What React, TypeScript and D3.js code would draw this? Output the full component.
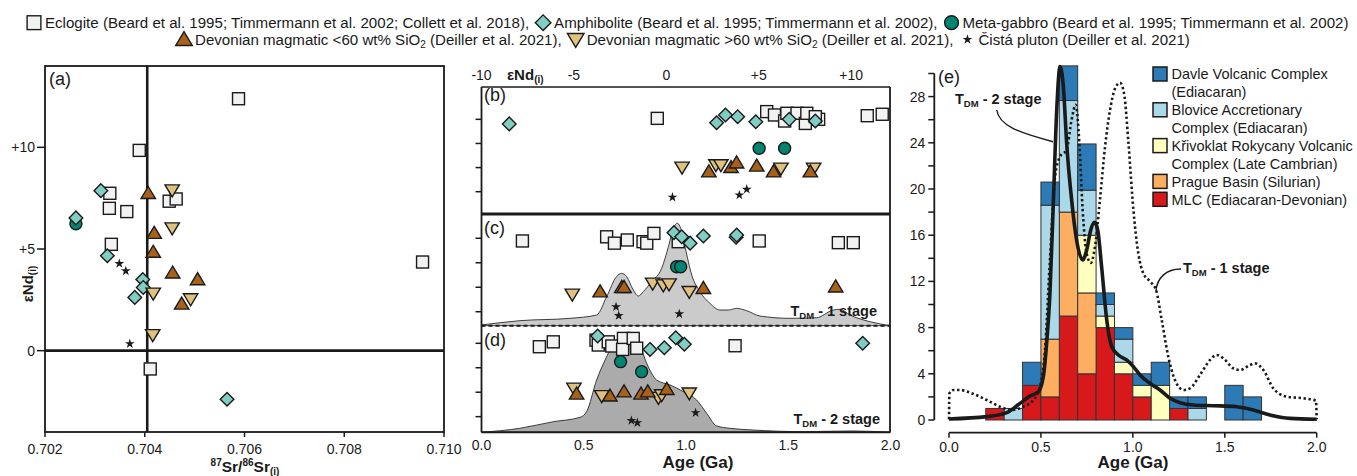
import React, { useEffect, useRef } from 'react';
import * as d3 from 'd3';

type Pt = [number, number];
type Kind = 'square' | 'diamond' | 'circle' | 'up' | 'down' | 'star';

const W = 1357;
const H = 476;
const FONT = "'Liberation Sans', Arial, Helvetica, sans-serif";
const INK = '#1a1a1a';

// marker colours (BrBG-like)
const C_ECLO = '#f2f2f2';
const C_AMPH = '#80cdc1';
const C_GAB = '#018571';
const C_LOW = '#a6611a';
const C_HIGH = '#dfc27d';

// ---- panel (a): 87Sr/86Sr(i) vs eNd(i)
const aEclogite: Pt[] = [[0.70588, 12.39], [0.70389, 9.85], [0.7033, 7.74], [0.70329, 7.0], [0.70364, 6.84], [0.70333, 5.23], [0.70449, 7.35], [0.70463, 7.46], [0.70957, 4.36], [0.70411, -0.9]];
const aAmphibolite: Pt[] = [[0.70312, 7.87], [0.70262, 6.53], [0.70325, 4.67], [0.70396, 3.5], [0.70397, 3.11], [0.7038, 2.62], [0.70565, -2.39]];
const aGabbro: Pt[] = [[0.70262, 6.24]];
const aLowSi: Pt[] = [[0.70407, 7.74], [0.70419, 5.78], [0.70417, 4.85], [0.70456, 3.83], [0.70506, 3.5], [0.70474, 2.3]];
const aHighSi: Pt[] = [[0.70455, 7.9], [0.70455, 6.03], [0.70417, 2.82], [0.70492, 2.54], [0.70416, 0.78]];
const aCista: Pt[] = [[0.70349, 4.28], [0.70362, 3.92], [0.7037, 0.34]];
const aXTicks = [0.702, 0.704, 0.706, 0.708, 0.71];
const aYTicks = [0, 5, 10];
const aSrLine = 0.70405;

// ---- panel (b): eNd(i), row value
const bEclogite: Pt[] = [[-0.49, 4.04], [10.87, 4.15], [11.68, 4.21], [5.43, 4.32], [5.85, 4.18], [6.4, 3.93], [6.52, 4.25], [7.07, 4.25], [7.52, 3.83], [7.6, 4.25], [8.24, 4.0], [8.06, 4.11]];
const bAmphibolite: Pt[] = [[-8.5, 3.81], [2.72, 3.86], [3.2, 4.18], [3.86, 4.11], [4.84, 3.9], [6.65, 4.0], [8.06, 3.93]];
const bGabbro: Pt[] = [[5.02, 2.8], [6.4, 2.8]];
const bHighSi: Pt[] = [[0.85, 2.01], [2.68, 2.11], [2.95, 2.11], [6.2, 1.97], [7.97, 1.97]];
const bLowSi: Pt[] = [[2.3, 1.83], [3.5, 2.01], [3.8, 2.2], [4.89, 2.07], [5.8, 1.83], [7.79, 1.83]];
const bCista: Pt[] = [[0.33, 0.77], [3.95, 0.86], [4.35, 1.1]];
const bTopTicks = [-10, -5, 0, 5, 10];

// ---- panel (c): TDM 1-stage age (Ga), row value
const cEclogite: Pt[] = [[0.2, 3.89], [0.612, 4.06], [0.65, 3.8], [0.713, 3.93], [0.79, 3.86], [0.808, 3.8], [0.843, 4.2], [0.962, 3.86], [1.358, 3.89], [1.745, 3.82], [1.818, 3.82]];
const cAmphibolite: Pt[] = [[0.941, 4.23], [0.979, 4.06], [1.02, 3.8], [1.085, 4.09], [1.245, 4.04], [1.248, 4.13]];
const cGabbro: Pt[] = [[0.954, 2.84], [0.974, 2.84]];
const cHighSi: Pt[] = [[0.444, 1.71], [0.837, 2.16], [0.889, 2.09], [0.917, 2.13], [1.016, 1.82]];
const cLowSi: Pt[] = [[0.58, 1.82], [0.686, 2.0], [0.697, 2.0], [1.085, 1.96], [1.732, 2.02]];
const cCista: Pt[] = [[0.658, 1.2], [0.671, 0.84], [0.967, 0.91]];
const cDensAge = [0, 0.188, 0.433, 0.563, 0.612, 0.66, 0.685, 0.71, 0.742, 0.767, 0.791, 0.832, 0.881, 0.914, 0.938, 0.958, 0.974, 0.995, 1.028, 1.068, 1.117, 1.166, 1.207, 1.248, 1.296, 1.362, 1.508, 1.638, 1.72, 1.753, 1.802, 1.9, 2.0];
const cDensVal = [0.007, 0.049, 0.072, 0.104, 0.283, 0.479, 0.511, 0.479, 0.349, 0.29, 0.332, 0.43, 0.56, 0.772, 0.951, 1.0, 0.951, 0.772, 0.495, 0.332, 0.218, 0.153, 0.153, 0.169, 0.147, 0.094, 0.072, 0.078, 0.153, 0.16, 0.104, 0.039, 0];

// ---- panel (d): TDM 2-stage age (Ga), row value
const dEclogite: Pt[] = [[0.283, 3.86], [0.351, 4.06], [0.56, 4.13], [0.571, 3.93], [0.62, 4.06], [0.637, 3.89], [0.694, 4.2], [0.69, 3.75], [0.742, 4.2], [0.759, 3.8], [1.24, 3.9]];
const dAmphibolite: Pt[] = [[0.568, 4.3], [0.824, 3.75], [0.894, 3.82], [0.95, 4.23], [0.992, 3.96], [1.864, 4.0]];
const dGabbro: Pt[] = [[0.68, 3.25], [0.783, 2.84]];
const dHighSi: Pt[] = [[0.452, 2.16], [0.588, 1.85], [0.865, 1.78], [0.881, 1.89], [1.016, 1.96]];
const dLowSi: Pt[] = [[0.465, 1.93], [0.628, 1.85], [0.697, 2.02], [0.78, 1.93], [0.813, 2.02], [0.906, 2.12]];
const dCista: Pt[] = [[0.733, 0.84], [0.762, 0.75], [1.047, 1.16]];
const dDensAge = [0, 0.188, 0.351, 0.482, 0.514, 0.563, 0.612, 0.645, 0.677, 0.71, 0.775, 0.808, 0.832, 0.856, 0.922, 0.987, 1.052, 1.101, 1.15, 1.215, 1.329, 1.574, 1.818, 2.0];
const dDensVal = [0, 0.042, 0.111, 0.157, 0.216, 0.547, 0.791, 0.93, 0.983, 1.0, 0.895, 0.721, 0.617, 0.547, 0.495, 0.425, 0.338, 0.199, 0.066, 0.042, 0.024, 0.007, 0.014, 0];
const ageTicks = [0, 0.5, 1.0, 1.5, 2.0];
const rowTicks = [1, 2, 3, 4];

// ---- panel (e): stacked histogram (0.1 Ga bins) + TDM curves
const binStart = [0.2, 0.3, 0.4, 0.5, 0.6, 0.7, 0.8, 0.9, 1.0, 1.1, 1.2, 1.3, 1.4, 1.5, 1.6];
const mlc = [1, 0, 3, 2, 9, 4, 8, 4, 2, 0, 1, 0, 0, 0, 0];
const prague = [0, 0, 0, 5, 9, 7, 0, 0, 0, 0, 0, 0, 0, 0, 0];
const krivoklat = [0, 0, 0, 0, 0, 5, 1, 1, 1, 3, 0, 0, 0, 0, 0];
const blovice = [0, 1, 0, 11.6, 9.66, 3.9, 1, 2, 0, 0, 0, 1, 0, 0, 0];
const davle = [0, 0, 2, 2, 3, 4, 1, 1, 1, 2, 1, 1, 0, 3, 2];
const seriesNames = ['MLC (Ediacaran-Devonian)', 'Prague Basin (Silurian)', 'Křivoklat Rokycany Volcanic Complex (Late Cambrian)', 'Blovice Accretionary Complex (Ediacaran)', 'Davle Volcanic Complex (Ediacaran)'];
const seriesColors = ['#d7191c', '#fdae61', '#ffffbf', '#abd9e9', '#2c7bb6'];
const eYTicks = [0, 4, 8, 12, 16, 20, 24, 28];
const eYMinor = [2, 6, 10, 14, 18, 22, 26, 30];

const tdm2Age = [0, 0.205, 0.314, 0.386, 0.441, 0.486, 0.513, 0.531, 0.549, 0.568, 0.586, 0.604, 0.622, 0.64, 0.667, 0.694, 0.727, 0.749, 0.771, 0.791, 0.809, 0.83, 0.858, 0.885, 0.921, 0.966, 1.003, 1.039, 1.093, 1.148, 1.202, 1.257, 1.329, 1.438, 1.565, 1.655, 1.746, 1.855, 2.0];
const tdm2Val = [0.09, 0.29, 0.64, 1.44, 2.08, 2.45, 3.75, 6.64, 10.97, 19.05, 26.85, 30.6, 28.87, 23.96, 19.05, 15.59, 13.86, 14.72, 16.45, 17.12, 16.45, 13.28, 8.66, 6.35, 5.63, 5.2, 4.62, 3.9, 3.18, 2.6, 1.88, 1.5, 1.3, 1.24, 1.15, 0.87, 0.43, 0.14, 0.06];
const tdm1Age = [0, 0.002, 0.024, 0.06, 0.114, 0.205, 0.277, 0.341, 0.404, 0.459, 0.495, 0.522, 0.549, 0.577, 0.604, 0.64, 0.667, 0.689, 0.709, 0.727, 0.749, 0.771, 0.794, 0.821, 0.849, 0.876, 0.903, 0.93, 0.952, 0.976, 1.003, 1.03, 1.057, 1.093, 1.126, 1.157, 1.193, 1.229, 1.275, 1.311, 1.365, 1.42, 1.456, 1.492, 1.547, 1.583, 1.637, 1.665, 1.71, 1.764, 1.837, 1.927, 1.996, 2.0];
const tdm1Val = [0.06, 2.3, 2.6, 2.6, 2.37, 1.73, 1.15, 0.87, 1.15, 1.73, 2.89, 6.06, 13.86, 21.07, 22.8, 23.4, 26.0, 27.3, 24.0, 18.2, 14.4, 13.6, 15.0, 19.05, 23.7, 26.85, 28.7, 29.2, 28.3, 24.0, 18.2, 14.4, 12.7, 12.0, 11.26, 8.66, 5.48, 3.46, 2.6, 2.74, 3.9, 5.2, 5.63, 5.34, 4.47, 4.33, 4.76, 4.9, 4.33, 2.74, 2.02, 1.88, 1.67, 0.06];

// top legend
const legendRows: { kind: Kind; text: string; sub?: [string, string, string] }[][] = [
  [
    { kind: 'square', text: 'Eclogite (Beard et al. 1995; Timmermann et al. 2002; Collett et al. 2018),' },
    { kind: 'diamond', text: 'Amphibolite (Beard et al. 1995; Timmermann et al. 2002),' },
    { kind: 'circle', text: 'Meta-gabbro (Beard et al. 1995; Timmermann et al. 2002)' },
  ],
  [
    { kind: 'up', text: '', sub: ['Devonian magmatic <60 wt% SiO', '2', ' (Deiller et al. 2021),'] },
    { kind: 'down', text: '', sub: ['Devonian magmatic >60 wt% SiO', '2', ' (Deiller et al. 2021),'] },
    { kind: 'star', text: 'Čistá pluton (Deiller et al. 2021)' },
  ],
];

type G = d3.Selection<SVGGElement, unknown, null, undefined>;

const marker = (g: G, kind: Kind, x: number, y: number, k = 1) => {
  const sw = 1.4;
  if (kind === 'square') {
    g.append('rect').attr('x', x - 6 * k).attr('y', y - 6 * k).attr('width', 12 * k).attr('height', 12 * k)
      .attr('fill', C_ECLO).attr('stroke', INK).attr('stroke-width', sw);
  } else if (kind === 'circle') {
    g.append('circle').attr('cx', x).attr('cy', y).attr('r', 6 * k)
      .attr('fill', C_GAB).attr('stroke', INK).attr('stroke-width', sw);
  } else if (kind === 'diamond') {
    const r = 6.8 * k;
    g.append('path').attr('d', `M${x},${y - r}L${x + r},${y}L${x},${y + r}L${x - r},${y}Z`)
      .attr('fill', C_AMPH).attr('stroke', INK).attr('stroke-width', sw);
  } else if (kind === 'up') {
    g.append('path').attr('d', `M${x - 7.2 * k},${y + 5.2 * k}L${x + 7.2 * k},${y + 5.2 * k}L${x},${y - 6.8 * k}Z`)
      .attr('fill', C_LOW).attr('stroke', INK).attr('stroke-width', sw);
  } else if (kind === 'down') {
    g.append('path').attr('d', `M${x - 7.2 * k},${y - 5.2 * k}L${x + 7.2 * k},${y - 5.2 * k}L${x},${y + 6.8 * k}Z`)
      .attr('fill', C_HIGH).attr('stroke', INK).attr('stroke-width', sw);
  } else {
    g.append('path').attr('d', d3.symbol(d3.symbolStar, 30 * k)() as string)
      .attr('transform', `translate(${x},${y})`).attr('fill', INK);
  }
};

const drawSet = (g: G, sets: [Kind, Pt[]][], sx: d3.ScaleLinear<number, number>, sy: d3.ScaleLinear<number, number>) => {
  sets.forEach(([kind, pts]) => pts.forEach(([a, b]) => marker(g, kind, sx(a), sy(b))));
};

const tdmLabel = (g: G, x: number, y: number, stage: string, anchor: string) => {
  const t = g.append('text').attr('x', x).attr('y', y).attr('text-anchor', anchor)
    .attr('font-size', 14.5).attr('font-weight', 'bold').attr('fill', INK);
  t.append('tspan').text('T');
  t.append('tspan').attr('font-size', 9.5).attr('dy', 3).text('DM');
  t.append('tspan').attr('dy', -3).text(` - ${stage} stage`);
};

const App: React.FC = () => {
  const ref = useRef<SVGSVGElement>(null);

  useEffect(() => {
    if (!ref.current) return;
    const svg = d3.select(ref.current);
    svg.selectAll('*').remove();
    const root = svg.append('g').attr('font-family', FONT) as unknown as G;

    // ================= top legend =================
    const rowStart = [27, 177];
    const rowY = [22.7, 39.5];
    legendRows.forEach((row, ri) => {
      let x = rowStart[ri];
      row.forEach(item => {
        const g = root.append('g');
        marker(g, item.kind, x + 7, rowY[ri], item.kind === 'star' ? 1 : 1.15);
        const t = g.append('text').attr('x', x + 18).attr('y', rowY[ri]).attr('dy', '0.35em')
          .attr('font-size', 15.1).attr('fill', INK);
        if (item.sub) {
          t.append('tspan').text(item.sub[0]);
          t.append('tspan').attr('font-size', 10).attr('dy', 3).text(item.sub[1]);
          t.append('tspan').attr('dy', -3).text(item.sub[2]);
        } else {
          t.text(item.text);
        }
        const w = (t.node() as SVGTextElement).getComputedTextLength();
        x += 18 + w + 7;
      });
    });

    // ================= panel (a) =================
    const xA = d3.scaleLinear().domain([0.702, 0.71]).range([45, 444]);
    const yA = d3.scaleLinear().domain([-4, 14]).range([432, 66]);
    const ga = root.append('g');
    ga.append('rect').attr('x', xA(0.702)).attr('y', yA(14)).attr('width', xA(0.71) - xA(0.702))
      .attr('height', yA(-4) - yA(14)).attr('fill', 'none').attr('stroke', INK).attr('stroke-width', 1.8);
    ga.append('line').attr('x1', xA(aSrLine)).attr('x2', xA(aSrLine)).attr('y1', yA(14)).attr('y2', yA(-4))
      .attr('stroke', INK).attr('stroke-width', 2.6);
    ga.append('line').attr('x1', xA(0.702)).attr('x2', xA(0.71)).attr('y1', yA(0)).attr('y2', yA(0))
      .attr('stroke', INK).attr('stroke-width', 2.6);
    aYTicks.forEach(v => {
      ga.append('line').attr('x1', xA(0.702) - 8).attr('x2', xA(0.702)).attr('y1', yA(v)).attr('y2', yA(v))
        .attr('stroke', INK).attr('stroke-width', 1.5);
      ga.append('text').attr('x', xA(0.702) - 10).attr('y', yA(v)).attr('dy', '0.35em').attr('text-anchor', 'end')
        .attr('font-size', 14).attr('fill', INK).text(v > 0 ? `+${v}` : `${v}`);
    });
    aXTicks.forEach(v => {
      ga.append('line').attr('x1', xA(v)).attr('x2', xA(v)).attr('y1', yA(-4)).attr('y2', yA(-4) + 5)
        .attr('stroke', INK).attr('stroke-width', 1.5);
      ga.append('text').attr('x', xA(v)).attr('y', 454).attr('text-anchor', 'middle')
        .attr('font-size', 14).attr('fill', INK).text(d3.format('.3f')(v));
    });
    ga.append('text').attr('x', 49).attr('y', 85).attr('font-size', 18).attr('fill', INK).text('(a)');
    const yl = ga.append('text').attr('transform', 'translate(33,284) rotate(-90)').attr('text-anchor', 'middle')
      .attr('font-size', 15).attr('font-weight', 'bold').attr('fill', INK);
    yl.append('tspan').text('εNd');
    yl.append('tspan').attr('font-size', 10).attr('dy', 3).text('(i)');
    const xl = ga.append('text').attr('x', 245).attr('y', 472).attr('text-anchor', 'middle')
      .attr('font-size', 15.5).attr('font-weight', 'bold').attr('fill', INK);
    xl.append('tspan').attr('font-size', 10).attr('dy', -6).text('87');
    xl.append('tspan').attr('dy', 6).text('Sr/');
    xl.append('tspan').attr('font-size', 10).attr('dy', -6).text('86');
    xl.append('tspan').attr('dy', 6).text('Sr');
    xl.append('tspan').attr('font-size', 10).attr('dy', 3).text('(i)');
    drawSet(ga, [['square', aEclogite], ['circle', aGabbro], ['diamond', aAmphibolite], ['down', aHighSi], ['up', aLowSi], ['star', aCista]], xA, yA);

    // ================= panels (b)-(d) =================
    const L = 481.5, R = 890;
    const xNd = d3.scaleLinear().domain([-10, 12.1]).range([L, R]);
    const xAge = d3.scaleLinear().domain([0, 2]).range([L, 890.5]);
    const yB = d3.scaleLinear().domain([0.076, 5.34]).range([214, 87]);
    const yC = d3.scaleLinear().domain([0.43, 4.95]).range([325.7, 215]);
    const yD = d3.scaleLinear().domain([0.36, 4.72]).range([432.3, 325.7]);
    const densC = d3.scaleLinear().domain([0, 1]).range([325.7, 223.3]);
    const densD = d3.scaleLinear().domain([0, 1]).range([432.3, 336.7]);
    const gb = root.append('g');

    // density areas
    const areaC = d3.area<number>().x((_, i) => xAge(cDensAge[i])).y0(densC(0)).y1(d => densC(d)).curve(d3.curveMonotoneX);
    const areaD = d3.area<number>().x((_, i) => xAge(dDensAge[i])).y0(densD(0)).y1(d => densD(d)).curve(d3.curveMonotoneX);
    gb.append('path').attr('d', areaC(cDensVal) as string).attr('fill', '#cbcbcb').attr('stroke', '#2a2a2a').attr('stroke-width', 0.9);
    gb.append('path').attr('d', areaD(dDensVal) as string).attr('fill', '#ababab').attr('stroke', '#2a2a2a').attr('stroke-width', 0.9);

    // frame
    gb.append('line').attr('x1', L).attr('x2', L).attr('y1', 87).attr('y2', 432.3).attr('stroke', INK).attr('stroke-width', 1.8);
    gb.append('line').attr('x1', R).attr('x2', R).attr('y1', 87).attr('y2', 432.3).attr('stroke', INK).attr('stroke-width', 1.8);
    gb.append('line').attr('x1', L).attr('x2', R).attr('y1', 87).attr('y2', 87).attr('stroke', INK).attr('stroke-width', 1.5);
    gb.append('line').attr('x1', L).attr('x2', R).attr('y1', 214).attr('y2', 214).attr('stroke', INK).attr('stroke-width', 3);
    gb.append('line').attr('x1', L).attr('x2', R).attr('y1', 325.7).attr('y2', 325.7).attr('stroke', INK)
      .attr('stroke-width', 2).attr('stroke-dasharray', '4 3');
    gb.append('line').attr('x1', L).attr('x2', R).attr('y1', 432.3).attr('y2', 432.3).attr('stroke', INK).attr('stroke-width', 2);

    [yB, yC, yD].forEach(sy => rowTicks.forEach(v => {
      gb.append('line').attr('x1', L - 6).attr('x2', L).attr('y1', sy(v)).attr('y2', sy(v)).attr('stroke', INK).attr('stroke-width', 1.5);
    }));
    bTopTicks.forEach(v => {
      gb.append('text').attr('x', xNd(v)).attr('y', 80).attr('text-anchor', 'middle').attr('font-size', 14)
        .attr('fill', INK).text(v > 0 ? `+${v}` : `${v}`);
    });
    const ndl = gb.append('text').attr('x', 507).attr('y', 80).attr('font-size', 15).attr('font-weight', 'bold').attr('fill', INK);
    ndl.append('tspan').text('εNd');
    ndl.append('tspan').attr('font-size', 10).attr('dy', 3).text('(i)');
    ageTicks.forEach(v => {
      gb.append('text').attr('x', xAge(v)).attr('y', 450).attr('text-anchor', 'middle').attr('font-size', 14)
        .attr('fill', INK).text(d3.format('.1f')(v));
    });
    gb.append('text').attr('x', 698).attr('y', 468).attr('text-anchor', 'middle').attr('font-size', 17)
      .attr('font-weight', 'bold').attr('fill', INK).text('Age (Ga)');
    gb.append('text').attr('x', 484).attr('y', 101).attr('font-size', 18).attr('fill', INK).text('(b)');
    gb.append('text').attr('x', 484).attr('y', 234).attr('font-size', 18).attr('fill', INK).text('(c)');
    gb.append('text').attr('x', 484).attr('y', 346).attr('font-size', 18).attr('fill', INK).text('(d)');
    tdmLabel(gb, 877, 316, '1', 'end');
    tdmLabel(gb, 880, 424, '2', 'end');

    drawSet(gb, [['square', bEclogite], ['diamond', bAmphibolite], ['circle', bGabbro], ['down', bHighSi], ['up', bLowSi], ['star', bCista]], xNd, yB);
    drawSet(gb, [['square', cEclogite], ['diamond', cAmphibolite], ['circle', cGabbro], ['down', cHighSi], ['up', cLowSi], ['star', cCista]], xAge, yC);
    drawSet(gb, [['square', dEclogite], ['diamond', dAmphibolite], ['circle', dGabbro], ['down', dHighSi], ['up', dLowSi], ['star', dCista]], xAge, yD);

    // ================= panel (e) =================
    const xE = d3.scaleLinear().domain([0, 2]).range([949, 1316.7]);
    const yE = d3.scaleLinear().domain([0, 30]).range([420, 73.5]);
    const ge = root.append('g');
    const axX = 934.3;
    ge.append('line').attr('x1', axX).attr('x2', axX).attr('y1', yE(30)).attr('y2', yE(0)).attr('stroke', INK).attr('stroke-width', 1.8);
    [...eYTicks, ...eYMinor].forEach(v => {
      ge.append('line').attr('x1', axX - 6).attr('x2', axX).attr('y1', yE(v)).attr('y2', yE(v)).attr('stroke', INK).attr('stroke-width', 1.5);
    });
    eYTicks.forEach(v => {
      ge.append('text').attr('x', axX - 9).attr('y', yE(v)).attr('dy', '0.35em').attr('text-anchor', 'end')
        .attr('font-size', 14).attr('fill', INK).text(`${v}`);
    });
    ge.append('line').attr('x1', xE(0)).attr('x2', xE(2)).attr('y1', 432.7).attr('y2', 432.7).attr('stroke', INK).attr('stroke-width', 1.8);
    ageTicks.forEach(v => {
      ge.append('line').attr('x1', xE(v)).attr('x2', xE(v)).attr('y1', 432.7).attr('y2', 437.7).attr('stroke', INK).attr('stroke-width', 1.5);
      ge.append('text').attr('x', xE(v)).attr('y', 452).attr('text-anchor', 'middle').attr('font-size', 14)
        .attr('fill', INK).text(d3.format('.1f')(v));
    });
    ge.append('text').attr('x', 1133).attr('y', 468).attr('text-anchor', 'middle').attr('font-size', 17)
      .attr('font-weight', 'bold').attr('fill', INK).text('Age (Ga)');

    // stacked bars
    const rows = binStart.map((b, i) => ({ b, s0: mlc[i], s1: prague[i], s2: krivoklat[i], s3: blovice[i], s4: davle[i] }));
    const stack = d3.stack<typeof rows[number]>().keys(['s0', 's1', 's2', 's3', 's4'])(rows);
    stack.forEach((layer, li) => {
      layer.forEach(seg => {
        if (seg[1] - seg[0] <= 0) return;
        ge.append('rect').attr('x', xE(seg.data.b)).attr('width', xE(seg.data.b + 0.1) - xE(seg.data.b))
          .attr('y', yE(seg[1])).attr('height', yE(seg[0]) - yE(seg[1]))
          .attr('fill', seriesColors[li]).attr('stroke', '#333').attr('stroke-width', 1);
      });
    });

    const line2 = d3.line<number>().x((_, i) => xE(tdm2Age[i])).y(d => yE(d)).curve(d3.curveMonotoneX);
    const line1 = d3.line<number>().x((_, i) => xE(tdm1Age[i])).y(d => yE(d)).curve(d3.curveMonotoneX);
    ge.append('path').attr('d', line1(tdm1Val) as string).attr('fill', 'none').attr('stroke', INK)
      .attr('stroke-width', 2.6).attr('stroke-dasharray', '2.4 2.6');
    ge.append('path').attr('d', line2(tdm2Val) as string).attr('fill', 'none').attr('stroke', INK)
      .attr('stroke-width', 3.6).attr('stroke-linejoin', 'round');

    ge.append('text').attr('x', 938).attr('y', 83).attr('font-size', 18).attr('fill', INK).text('(e)');
    tdmLabel(ge, 955, 104, '2', 'start');
    ge.append('path').attr('d', 'M996.7,110 C999,126 1020,133 1053,141.7').attr('fill', 'none').attr('stroke', INK).attr('stroke-width', 1.4);
    tdmLabel(ge, 1183, 273, '1', 'start');
    ge.append('path').attr('d', 'M1181,269 C1166,269 1157,278 1156,291').attr('fill', 'none').attr('stroke', INK).attr('stroke-width', 1.4);

    // legend (e)
    const legLines: [number, string][] = [
      [4, 'Davle Volcanic Complex'], [-1, '(Ediacaran)'],
      [3, 'Blovice Accretionary'], [-1, 'Complex (Ediacaran)'],
      [2, 'Křivoklat Rokycany Volcanic'], [-1, 'Complex (Late Cambrian)'],
      [1, 'Prague Basin (Silurian)'], [0, 'MLC (Ediacaran-Devonian)'],
    ];
    legLines.forEach(([si, txt], i) => {
      const cy = 74 + i * 17.9;
      if (si >= 0) {
        ge.append('rect').attr('x', 1153).attr('y', cy - 7).attr('width', 14).attr('height', 14)
          .attr('fill', seriesColors[si]).attr('stroke', INK).attr('stroke-width', 1.5)
          .attr('data-name', seriesNames[si]);
      }
      ge.append('text').attr('x', 1171.5).attr('y', cy).attr('dy', '0.36em').attr('font-size', 14.5)
        .attr('fill', INK).text(txt);
    });
  }, []);

  return (
    <svg
      ref={ref}
      width={W}
      height={H}
      viewBox={`0 0 ${W} ${H}`}
      style={{ position: 'absolute', left: 0, top: 0, background: '#fff' }}
    />
  );
};

export default App;
